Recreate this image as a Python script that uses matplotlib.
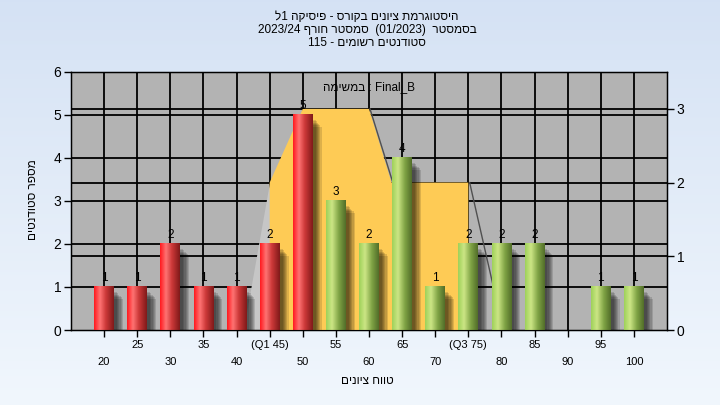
import numpy as np
import matplotlib
matplotlib.use("Agg")
import matplotlib.pyplot as plt
from matplotlib.patches import Polygon, Rectangle

plt.rcParams['font.family'] = ['Liberation Sans', 'DejaVu Sans']

# ---------------- data ----------------
categories = [20, 25, 30, 35, 40, 45, 50, 55, 60, 65, 70, 75, 80, 85, 90, 95, 100]
counts = [1, 1, 2, 1, 1, 2, 5, 3, 2, 4, 1, 2, 2, 2, 0, 1, 1]
tick_labels = ['20', '25', '30', '35', '40', '(Q1 45)', '50', '55', '60', '65',
               '70', '(Q3 75)', '80', '85', '90', '95', '100']
fail_limit = 50
band_x = [45, 45, 50, 60, 63.4, 75, 75]
band_y = [0, 2, 3, 3, 2, 2, 0]

title_lines = ["היסטוגרמת ציונים בקורס - פיסיקה 1ל",
               "בסמסטר  (01/2023)  סמסטר חורף 2023/24",
               "סטודנטים רשומים - 115"]
x_title = "טווח ציונים"
y_title = "מספר סטודנטים"
task_text = "Final_B : במשימה"


def is_heb(w):
    return any('\u0590' <= c <= '\u05ff' for c in w)


def bidi(s):
    # simple right-to-left visual ordering for matplotlib (which has no bidi)
    toks = s.split(' ')[::-1]
    return ' '.join(t[::-1] if is_heb(t) else t for t in toks)


# ---------------- figure ----------------
fig = plt.figure(figsize=(7.2, 4.05), dpi=100)
bg = fig.add_axes([0, 0, 1, 1], zorder=-10)
grad = np.linspace(0, 1, 256)[:, None]
top_c = np.array([0.835, 0.886, 0.957])
bot_c = np.array([0.945, 0.968, 0.992])
img = top_c[None, None, :] * (1 - grad[:, :, None]) + bot_c[None, None, :] * grad[:, :, None]
bg.imshow(img, aspect='auto', extent=[0, 1, 0, 1])
bg.axis('off')

ax = fig.add_axes([71 / 720, 1 - 330 / 405, (667 - 71) / 720, (330 - 72) / 405])
ax.set_facecolor('#b3b3b3')
XMIN, XMAX = 15, 105
YMAX_L, YMAX_R = 6, 3.5
ax.set_xlim(XMIN, XMAX)
ax.set_ylim(0, YMAX_L)
scale = YMAX_L / YMAX_R

# grid lines
for c in categories:
    ax.axvline(c, color='black', lw=1.3, zorder=1)
for v in range(1, 6):
    ax.axhline(v, color='black', lw=1.3, zorder=1)
for v in range(1, 4):
    ax.axhline(v * scale, color='black', lw=1.3, zorder=1)

# quartile band (right-axis units)
ax.add_patch(Polygon([(45, 2 * scale), (45, 0), (41.1, 0)], closed=True,
                     facecolor='#c6c6c6', edgecolor='none', zorder=2))
ax.add_patch(Polygon(list(zip(band_x, [b * scale for b in band_y])), closed=True,
                     facecolor='#fecb55', edgecolor='none', zorder=3))
ax.plot([60.15, 63.6], [3 * scale, 2 * scale], color='#505050', lw=1.0, zorder=3)
ax.plot([75.2, 79.0], [2 * scale, 0.5 * scale], color='#505050', lw=1.0, zorder=2.5)


def gradient(stops, n=64):
    xs = np.linspace(0, 1, n)
    pos = [s[0] for s in stops]
    cols = np.array([s[1] for s in stops])
    out = np.stack([np.interp(xs, pos, cols[:, k]) for k in range(3)], axis=-1)
    return out[None, :, :]


red_grad = gradient([(0, (1.0, 0.10, 0.12)), (0.3, (1.0, 0.45, 0.45)),
                     (0.6, (0.80, 0.22, 0.22)), (1.0, (0.50, 0.10, 0.10))])
green_grad = gradient([(0, (0.62, 0.82, 0.35)), (0.3, (0.80, 0.90, 0.52)),
                       (0.65, (0.50, 0.64, 0.27)), (1.0, (0.32, 0.43, 0.16))])

bw = 3.0
for c, v in zip(categories, counts):
    if v <= 0:
        continue
    # shadow
    for k in range(6):
        off = 0.15 + k * 0.18
        ax.add_patch(Rectangle((c - bw / 2 + off + 0.3, 0), bw, v - 0.12 - k * 0.03,
                               facecolor='black', alpha=0.13, edgecolor='none', zorder=4))
    g = red_grad if c <= fail_limit else green_grad
    ax.imshow(g, extent=[c - bw / 2, c + bw / 2, 0, v], aspect='auto', zorder=5,
              interpolation='bilinear')
    ax.text(c, v + 0.06, str(v), ha='center', va='bottom', fontsize=8.5,
            color='black', zorder=6)

ax.set_xlim(XMIN, XMAX)
ax.set_ylim(0, YMAX_L)
ax.set_aspect('auto')

# ticks
ax.set_xticks(categories)
ax.set_xticklabels([])
ax.tick_params(axis='x', length=5, width=1, direction='out', color='black')
for i, (c, lab) in enumerate(zip(categories, tick_labels)):
    yrow = -0.35 if i % 2 == 1 else -0.75
    ax.text(c, yrow, lab, ha='center', va='center', fontsize=8, color='black',
            transform=ax.transData, clip_on=False)
ax.set_yticks(range(0, 7))
ax.tick_params(axis='y', length=5, width=1, labelsize=10, pad=2)
for s in ax.spines.values():
    s.set_color('black')
    s.set_linewidth(1.0)

axr = ax.twinx()
axr.set_ylim(0, YMAX_R)
axr.set_yticks([0, 1, 2, 3])
axr.tick_params(axis='y', length=5, width=1, labelsize=10, pad=2)
axr.spines['right'].set_color('black')

# texts
ax.text(60, 5.66, bidi(task_text), ha='center', va='center', fontsize=8.5, color='black', zorder=7)
for i, line in enumerate(title_lines):
    fig.text(367 / 720, 1 - (17 + 13 * i) / 405, bidi(line), ha='center', va='center',
             fontsize=8.5, color='black')
fig.text(367 / 720, 1 - 381 / 405, bidi(x_title), ha='center', va='center', fontsize=8.5)
fig.text(33 / 720, 1 - 200 / 405, bidi(y_title),
         ha='center', va='center', rotation=90, fontsize=8.5)

fig.savefig('out.png', dpi=100)
